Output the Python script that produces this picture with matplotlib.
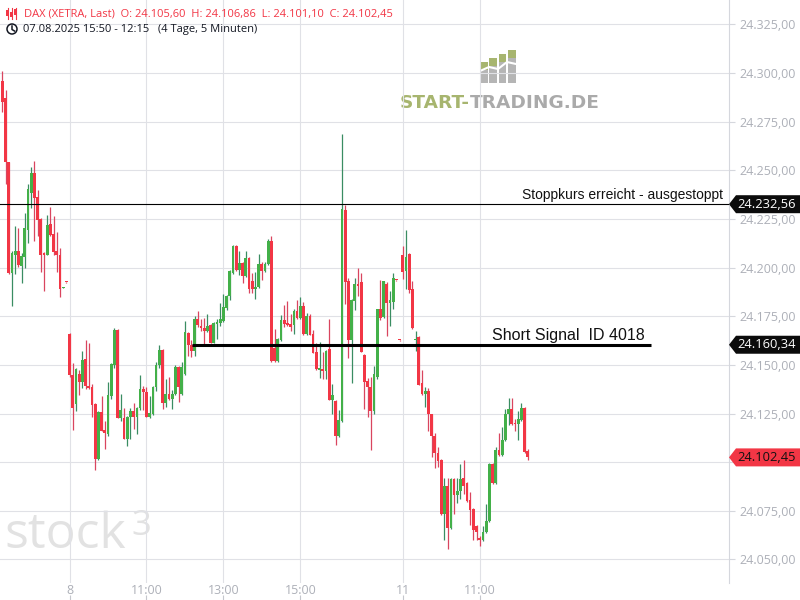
import matplotlib.pyplot as plt
import numpy as np
from matplotlib.patches import Polygon, Rectangle, Circle

plt.rcParams['font.family'] = ['Open Sans', 'DejaVu Sans']

# DAX 5-Minuten-Kerzen: 07.08. ab 15:50 (21), 08.08. (104), 11.08. bis 12:15 (40)
opens = [
    24295.7, 24287.0, 24254.0, 24197.2, 24206.3, 24208.4, 24200.6, 24205.4, 24219.3, 24238.1,
    24248.4, 24236.1, 24224.8, 24207.6, 24206.6, 24222.2, 24217.2, 24208.3, 24206.3, 24189.6,
    24192.6,
    24165.7, 24144.6, 24129.8, 24145.1, 24141.1, 24152.8, 24139.1, 24138.4, 24129.7, 24101.6,
    24125.6, 24116.3, 24114.3, 24133.8, 24149.8, 24167.7, 24122.6, 24122.6, 24111.8, 24123.2,
    24126.1, 24123.2, 24127.6, 24137.4, 24135.8, 24123.2, 24124.7, 24138.4, 24149.8, 24157.4,
    24130.4, 24134.8, 24132.4, 24134.8, 24148.7, 24134.9, 24145.1, 24166.2, 24160.0, 24157.0,
    24173.8, 24170.2, 24169.0, 24167.3, 24170.4, 24161.2, 24170.8, 24171.3, 24172.3, 24179.0,
    24185.2, 24197.0, 24210.9, 24198.6, 24202.2, 24195.5, 24204.7, 24192.9, 24188.8, 24189.8,
    24201.7, 24198.1, 24201.7, 24213.5, 24158.9, 24151.9, 24162.6, 24172.9, 24171.3, 24170.8,
    24170.3, 24177.5, 24174.3, 24180.1, 24165.7, 24174.9, 24165.7, 24156.4, 24147.2, 24147.7,
    24146.7, 24157.9, 24131.7, 24131.2, 24113.2, 24120.9, 24229.4, 24192.9, 24162.6, 24182.6,
    24191.8, 24192.4, 24154.9, 24141.5, 24138.4, 24126.1, 24144.0, 24178.5, 24174.4, 24191.3,
    24181.6, 24182.1, 24193.6, 24162.8,
    24206.3, 24198.1, 24206.8, 24188.8, 24162.8, 24164.1, 24140.5, 24134.8, 24136.4, 24124.5,
    24113.2, 24104.5, 24100.9, 24073.6, 24087.5, 24066.0, 24091.6, 24082.9, 24085.0, 24092.1,
    24089.5, 24080.3, 24075.7, 24067.0, 24060.8, 24059.8, 24063.9, 24069.6, 24098.8, 24089.5,
    24106.5, 24103.5, 24111.2, 24124.5, 24127.1, 24119.9, 24119.4, 24121.5, 24127.6, 24105.60,
]
highs = [
    24301.0, 24291.0, 24254.5, 24208.3, 24221.3, 24220.3, 24207.5, 24227.8, 24242.9, 24251.7,
    24254.6, 24239.7, 24225.3, 24207.8, 24226.8, 24230.9, 24226.4, 24218.5, 24210.3, 24190.2,
    24192.8,
    24166.3, 24150.9, 24148.5, 24147.2, 24156.9, 24162.6, 24161.0, 24140.0, 24130.2, 24126.2,
    24133.8, 24120.9, 24141.0, 24150.8, 24168.7, 24168.2, 24134.8, 24127.6, 24123.7, 24127.6,
    24130.2, 24128.1, 24144.6, 24139.0, 24138.4, 24133.8, 24138.9, 24151.3, 24160.0, 24157.9,
    24142.5, 24143.6, 24136.9, 24149.8, 24149.3, 24151.3, 24172.3, 24166.8, 24163.0, 24175.3,
    24177.6, 24173.5, 24174.2, 24175.9, 24171.0, 24171.8, 24173.5, 24181.6, 24186.2, 24185.7,
    24198.6, 24211.4, 24211.4, 24208.3, 24202.7, 24208.3, 24205.2, 24197.0, 24197.6, 24206.8,
    24202.7, 24202.7, 24214.5, 24216.0, 24168.2, 24163.6, 24175.4, 24180.6, 24182.6, 24176.0,
    24178.5, 24183.1, 24184.7, 24182.1, 24176.9, 24175.9, 24167.7, 24161.0, 24161.5, 24156.8,
    24157.4, 24173.4, 24140.0, 24131.7, 24126.6, 24268.5, 24232.0, 24194.4, 24183.6, 24194.4,
    24200.0, 24197.0, 24155.4, 24143.5, 24144.0, 24149.2, 24178.5, 24193.4, 24192.9, 24192.4,
    24188.0, 24197.0, 24193.6, 24162.8,
    24210.9, 24219.1, 24207.3, 24192.9, 24167.2, 24164.6, 24147.2, 24138.4, 24138.0, 24125.0,
    24115.0, 24108.0, 24101.4, 24092.1, 24092.1, 24092.1, 24092.1, 24092.1, 24098.8, 24100.9,
    24090.0, 24084.5, 24076.2, 24067.5, 24062.0, 24067.0, 24078.3, 24099.8, 24099.8, 24108.0,
    24114.8, 24117.9, 24127.1, 24132.8, 24132.8, 24122.0, 24126.1, 24130.2, 24128.1, 24106.86,
]
lows = [
    24280.0, 24243.0, 24196.5, 24180.0, 24196.8, 24200.2, 24192.0, 24199.7, 24212.8, 24230.4,
    24213.6, 24216.0, 24197.5, 24187.9, 24206.3, 24216.0, 24206.3, 24197.5, 24184.8, 24189.4,
    24192.2,
    24144.0, 24116.3, 24126.2, 24134.3, 24138.0, 24137.5, 24137.5, 24123.2, 24095.9, 24101.0,
    24116.0, 24106.7, 24113.4, 24132.3, 24148.3, 24122.6, 24121.0, 24111.8, 24108.3, 24111.8,
    24117.0, 24114.4, 24127.0, 24126.6, 24123.2, 24122.7, 24124.2, 24136.4, 24148.3, 24127.2,
    24128.6, 24132.0, 24127.2, 24134.3, 24130.8, 24134.4, 24144.6, 24154.5, 24154.0, 24154.5,
    24169.2, 24167.2, 24160.9, 24166.8, 24161.2, 24161.0, 24163.2, 24169.8, 24171.8, 24178.0,
    24183.1, 24196.5, 24198.1, 24196.0, 24191.9, 24195.0, 24186.8, 24186.8, 24183.7, 24189.3,
    24193.4, 24197.6, 24201.2, 24151.4, 24151.3, 24151.4, 24162.1, 24169.3, 24169.8, 24167.2,
    24165.7, 24173.8, 24173.8, 24165.2, 24165.1, 24165.1, 24156.0, 24147.2, 24143.0, 24142.5,
    24142.5, 24131.7, 24125.0, 24109.0, 24112.7, 24120.4, 24181.1, 24153.3, 24140.5, 24178.0,
    24185.2, 24156.4, 24127.1, 24123.0, 24106.0, 24124.5, 24142.5, 24172.9, 24174.0, 24164.6,
    24170.2, 24178.5, 24193.2, 24162.4,
    24194.0, 24188.8, 24186.8, 24168.2, 24156.9, 24139.4, 24134.3, 24128.6, 24115.8, 24102.9,
    24096.8, 24097.3, 24073.1, 24059.8, 24055.2, 24065.5, 24073.6, 24078.8, 24080.9, 24083.4,
    24079.3, 24067.5, 24059.8, 24059.8, 24056.7, 24059.3, 24063.4, 24069.1, 24089.0, 24089.0,
    24103.0, 24103.0, 24110.7, 24119.0, 24119.0, 24116.0, 24111.2, 24121.0, 24104.5, 24101.10,
]
closes = [
    24285.0, 24254.0, 24197.2, 24207.5, 24208.4, 24201.5, 24206.1, 24220.3, 24240.2, 24248.4,
    24235.7, 24224.4, 24206.6, 24206.6, 24221.8, 24216.7, 24207.9, 24206.3, 24188.8, 24190.0,
    24192.4,
    24144.6, 24127.8, 24147.7, 24141.1, 24152.3, 24139.1, 24138.0, 24129.3, 24101.6, 24125.6,
    24116.0, 24115.0, 24134.3, 24150.3, 24167.7, 24122.6, 24126.6, 24111.8, 24123.2, 24126.1,
    24123.2, 24127.6, 24137.4, 24135.8, 24123.2, 24125.1, 24138.4, 24149.8, 24157.4, 24130.4,
    24134.8, 24132.4, 24134.8, 24148.7, 24138.4, 24148.7, 24166.8, 24160.0, 24157.0, 24173.8,
    24170.6, 24169.0, 24167.3, 24169.9, 24161.2, 24171.3, 24171.8, 24173.4, 24179.5, 24185.2,
    24198.1, 24210.9, 24198.6, 24202.2, 24195.5, 24204.7, 24188.8, 24188.8, 24189.8, 24201.7,
    24198.1, 24201.7, 24213.5, 24151.9, 24151.9, 24163.1, 24172.9, 24170.8, 24170.3, 24169.3,
    24177.5, 24174.3, 24180.1, 24165.7, 24174.9, 24165.1, 24156.0, 24147.7, 24148.3, 24146.7,
    24156.9, 24131.7, 24134.3, 24113.2, 24121.5, 24229.9, 24192.4, 24163.0, 24183.1, 24191.8,
    24190.3, 24156.4, 24141.0, 24138.4, 24126.1, 24145.1, 24178.5, 24173.9, 24192.9, 24181.6,
    24183.1, 24194.4, 24193.4, 24162.6,
    24197.5, 24205.3, 24188.3, 24168.7, 24163.3, 24139.9, 24134.8, 24136.4, 24124.5, 24113.2,
    24104.5, 24100.4, 24073.6, 24087.5, 24066.0, 24091.6, 24082.9, 24085.0, 24091.6, 24088.0,
    24079.8, 24075.2, 24064.9, 24063.9, 24059.8, 24063.9, 24070.0, 24098.8, 24089.5, 24106.5,
    24103.5, 24111.2, 24124.5, 24127.1, 24119.4, 24119.4, 24122.0, 24127.6, 24105.0, 24102.45,
]

# Zeitachse (Kerzenindex) und Preisachse
tick_pos = [21, 45, 69, 93, 125, 149]
tick_labels = ['8', '11:00', '13:00', '15:00', '11', '11:00']
y_ticks = [24050, 24075, 24100, 24125, 24150, 24175, 24200, 24225, 24250, 24275, 24300, 24325]

stop_price = 24232.56
signal_price = 24160.34
signal_start, signal_end = 59.2, 202.4

GREEN = '#43b049'
RED = '#f23645'
GRID = '#e0e1e6'
AXIS_TXT = '#adb0b8'


def de(v):
    return f"{v:,.2f}".replace(",", "X").replace(".", ",").replace("X", ".")


o = np.array(opens)
h = np.array(highs)
l = np.array(lows)
c = np.array(closes)
idx = np.arange(len(o))
up = c >= o

fig = plt.figure(figsize=(8, 6), dpi=100, facecolor='white')

# Hintergrund (Wasserzeichen)
bg = fig.add_axes([0, 0, 1, 1], zorder=-1)
bg.set_xlim(0, 800)
bg.set_ylim(600, 0)
bg.axis('off')
bg.text(4, 548, 'stock', fontsize=36, color='#e2e2e2', va='baseline')
bg.text(131, 535, '3', fontsize=25, color='#e2e2e2', va='baseline')
t1 = bg.text(400, 108, 'START-', fontsize=13.3, color='#a7b56f', va='baseline',
             family='DejaVu Sans', weight='bold')
bg.annotate('TRADING.DE', xy=(1, 0), xycoords=t1, fontsize=13.3, color='#aaaaaa',
            va='bottom', family='DejaVu Sans', weight='bold')
bar_tops = [62, 58, 54, 50]
for i, top in enumerate(bar_tops):
    x = 480 + i * 9.4
    bg.add_patch(Rectangle((x, top), 7.5, 8, color='#a7b56f', lw=0))
    bg.add_patch(Rectangle((x, top + 8), 7.5, 83 - top - 8, color='#b5b5b5', lw=0))
bg.plot([480, 489, 498, 507, 516], [71, 67, 69, 62, 64], color='white', lw=1.5)

# Chart
ax = fig.add_axes([0, 17 / 600, 729 / 800, 583 / 600])
ax.set_facecolor('none')
ax.set_xlim(-0.72, 226.8)
ax.set_ylim(24037.9, 24337.5)

ax.vlines(idx, l, h, colors=np.where(up, '#3a8d62', '#d9455f'), lw=0.9, zorder=2)
ax.bar(idx, np.maximum(np.abs(c - o), 0.5), bottom=np.minimum(o, c), width=0.86,
       color=np.where(up, GREEN, RED), lw=0, zorder=3)

# Beschriftung 24.100,00 liegt unter dem Kursschild
ax.set_yticks(y_ticks, ['' if v == 24100 else de(v) for v in y_ticks])
ax.yaxis.tick_right()
ax.tick_params(axis='y', length=4, color='#d5d7dd', labelcolor=AXIS_TXT, labelsize=9, pad=3.5)
ax.set_xticks(tick_pos, tick_labels)
ax.tick_params(axis='x', length=0, labelcolor=AXIS_TXT, labelsize=9, pad=1)
ax.grid(True, color=GRID, lw=0.8, zorder=0)
for s in ['top', 'left', 'bottom']:
    ax.spines[s].set_visible(False)
ax.spines['right'].set_color('#d5d7dd')
ax.spines['right'].set_linewidth(0.8)
ax.vlines(tick_pos, -17 / 583, -12 / 583, transform=ax.get_xaxis_transform(),
          colors='#c5c7cd', lw=0.8, clip_on=False)

# Stopp- und Signallinie
ax.axhline(stop_price, color='black', lw=0.8, zorder=5)
ax.annotate('Stoppkurs erreicht - ausgestoppt', xy=(723 / 729, stop_price),
            xycoords=('axes fraction', 'data'), xytext=(0, 3.5), textcoords='offset points',
            ha='right', va='baseline', fontsize=10.0, family='Liberation Sans', color='#111111')
ax.hlines(signal_price, signal_start, signal_end, color='black', lw=2.2, zorder=5)
ax.annotate('Short Signal  ID 4018', xy=(200.6, signal_price), xytext=(0, 3.5),
            textcoords='offset points', ha='right', va='baseline', fontsize=11.5,
            family='Liberation Sans', color='#111111')


def price_tag(price, face, txt):
    tr = ax.get_yaxis_transform()
    hh = 9 / 1.9462
    x0, x1, x2 = 1.0, 736 / 729, 800 / 729
    ax.add_patch(Polygon([(x0, price), (x1, price + hh), (x2, price + hh),
                          (x2, price - hh), (x1, price - hh)], closed=True,
                         transform=tr, facecolor=face, edgecolor='none',
                         clip_on=False, zorder=10))
    ax.text(767 / 729, price, de(price), transform=tr, ha='center', va='center',
            color=txt, fontsize=9.3, clip_on=False, zorder=11)


price_tag(stop_price, '#0b0b0b', 'white')
price_tag(signal_price, '#0b0b0b', 'white')
price_tag(closes[-1], RED, '#111111')

# Kopfzeile
fg = fig.add_axes([0, 0, 1, 1], zorder=6)
fg.set_xlim(0, 800)
fg.set_ylim(600, 0)
fg.axis('off')
for x, (a, b), (ba, bb) in [(7.5, (8, 19), (10, 16)), (11.5, (8, 19), (12, 17)),
                             (15.5, (8, 19), (9, 15))]:
    fg.plot([x, x], [a, b], color=RED, lw=0.8)
    fg.add_patch(Rectangle((x - 1.3, ba), 2.6, bb - ba, color=RED, lw=0))
header = (f"DAX (XETRA, Last)  O: {de(opens[-1])}  H: {de(highs[-1])}  "
          f"L: {de(lows[-1])}  C: {de(closes[-1])}")
fg.text(24, 13.5, header, va='center', color=RED, fontsize=8.0)
fg.add_patch(Circle((12, 29), 5, fill=False, ec='#131722', lw=1.1))
fg.plot([12, 12, 14.5], [26, 29.5, 31], color='#131722', lw=1.1)
fg.text(23, 29.5, '07.08.2025 15:50 - 12:15   (4 Tage, 5 Minuten)', va='center',
        color='#131722', fontsize=8.0)

fig.savefig('out.png', dpi=100, facecolor='white')
